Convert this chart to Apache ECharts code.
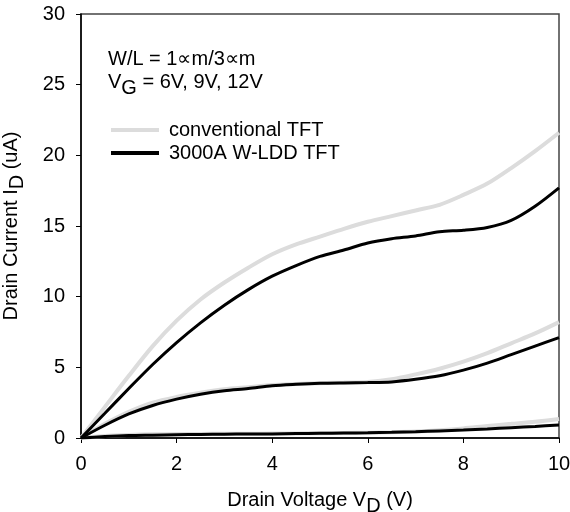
<!DOCTYPE html>
<html>
<head>
<meta charset="utf-8">
<script src="https://cdn.jsdelivr.net/npm/echarts@6/dist/echarts.min.js"></script>
<style>
  html, body { margin: 0; padding: 0; background: #fff; }
  #chart { width: 570px; height: 512px; }
</style>
</head>
<body>
<div id="chart"></div>
<script>
// drain voltage (V)
var vd = [0, 0.5, 1, 1.5, 2, 2.5, 3, 3.5, 4, 4.5, 5, 5.5, 6, 6.5, 7, 7.5, 8, 8.5, 9, 9.5, 10];

// conventional TFT, VG = 12V / 9V / 6V  (uA)
var conv12 = [0, 2.2, 4.4, 6.5, 8.3, 9.8, 11.0, 12.05, 13.0, 13.7, 14.25, 14.8, 15.3, 15.7, 16.1, 16.5, 17.2, 18.0, 19.1, 20.3, 21.6];
var conv9  = [0, 1.0, 1.85, 2.5, 2.9, 3.2, 3.45, 3.6, 3.75, 3.82, 3.88, 3.92, 3.97, 4.15, 4.5, 4.9, 5.4, 6.0, 6.7, 7.4, 8.2];
var conv6  = [0, 0.15, 0.22, 0.26, 0.28, 0.29, 0.3, 0.3, 0.31, 0.32, 0.34, 0.36, 0.38, 0.41, 0.46, 0.55, 0.68, 0.85, 1.0, 1.15, 1.35];

// 3000A W-LDD TFT, VG = 12V / 9V / 6V  (uA)
var ldd12 = [0, 1.75, 3.5, 5.2, 6.75, 8.15, 9.4, 10.5, 11.45, 12.2, 12.85, 13.3, 13.8, 14.1, 14.3, 14.6, 14.7, 14.9, 15.4, 16.4, 17.7];
var ldd9  = [0, 0.9, 1.7, 2.3, 2.75, 3.1, 3.35, 3.5, 3.7, 3.8, 3.87, 3.9, 3.92, 3.97, 4.15, 4.4, 4.8, 5.3, 5.9, 6.5, 7.1];
var ldd6  = [0, 0.1, 0.17, 0.2, 0.23, 0.25, 0.27, 0.28, 0.29, 0.31, 0.33, 0.35, 0.37, 0.4, 0.44, 0.5, 0.56, 0.64, 0.73, 0.82, 0.92];

var convName = 'conventional TFT';
var lddName = '3000A W-LDD TFT';

function pairs(ys) {
    return vd.map(function (v, i) { return [v, ys[i]]; });
}

function line(name, ys, color, width, z) {
    return {
        name: name,
        type: 'line',
        data: pairs(ys),
        smooth: 0.3,
        showSymbol: false,
        symbol: 'none',
        z: z,
        lineStyle: { color: color, width: width },
        itemStyle: { color: color }
    };
}

var font = 'Liberation Sans, Arial, sans-serif';
var fs = 20;
var myChart = echarts.init(document.getElementById('chart'));

var option = {
    animation: false,
    grid: {
        left: 81, right: 11, top: 14, bottom: 74,
        outerBoundsMode: 'none',
        containLabel: false,
        show: true, borderColor: '#444', borderWidth: 1.5
    },
    legend: {
        orient: 'vertical',
        left: 106, top: 115,
        itemWidth: 48, itemHeight: 4,
        itemGap: 3,
        icon: 'rect',
        data: [convName, lddName],
        textStyle: { fontFamily: font, fontSize: fs, lineHeight: 20, color: '#000', padding: [0, 0, 0, 5] }
    },
    xAxis: {
        type: 'value',
        min: 0, max: 10, interval: 2,
        name: 'Drain Voltage V{sub|D} (V)',
        nameLocation: 'middle',
        nameGap: 46,
        nameTextStyle: {
            fontFamily: font, fontSize: fs, color: '#000',
            rich: { sub: { fontFamily: font, fontSize: fs, color: '#000', padding: [12, 0, 0, 0] } }
        },
        splitLine: { show: false },
        axisLine: { lineStyle: { color: '#000', width: 1.5 } },
        axisTick: { inside: false, length: 5, lineStyle: { color: '#000' } },
        axisLabel: { fontFamily: font, fontSize: fs, color: '#000', margin: 16 }
    },
    yAxis: {
        type: 'value',
        min: 0, max: 30, interval: 5,
        name: 'Drain Current I{sub|D} (uA)',
        nameLocation: 'middle',
        nameGap: 54,
        nameTextStyle: {
            fontFamily: font, fontSize: fs, color: '#000',
            rich: { sub: { fontFamily: font, fontSize: fs, color: '#000', padding: [12, 0, 0, 0] } }
        },
        splitLine: { show: false },
        axisLine: { show: true, lineStyle: { color: '#000', width: 1.5 } },
        axisTick: { show: true, inside: false, length: 5, lineStyle: { color: '#000' } },
        axisLabel: { fontFamily: font, fontSize: fs, color: '#000', margin: 16 }
    },
    graphic: [
        {
            type: 'text', left: 108, top: 49,
            style: { text: 'W/L = 1\u221dm/3\u221dm', font: fs + 'px ' + font, fill: '#000' }
        },
        {
            type: 'text', left: 108, top: 72,
            style: {
                text: 'V{sub|G} = 6V, 9V, 12V',
                font: fs + 'px ' + font, fill: '#000',
                rich: { sub: { font: fs + 'px ' + font, fill: '#000', padding: [12, 0, 0, 0] } }
            }
        }
    ],
    series: [
        line(convName, conv12, '#dcdcdc', 4, 2),
        line(convName, conv9, '#dcdcdc', 4, 2),
        line(convName, conv6, '#dcdcdc', 4, 2),
        line(lddName, ldd12, '#000', 3, 3),
        line(lddName, ldd9, '#000', 3, 3),
        line(lddName, ldd6, '#000', 3, 3)
    ]
};

myChart.setOption(option);
</script>
</body>
</html>
